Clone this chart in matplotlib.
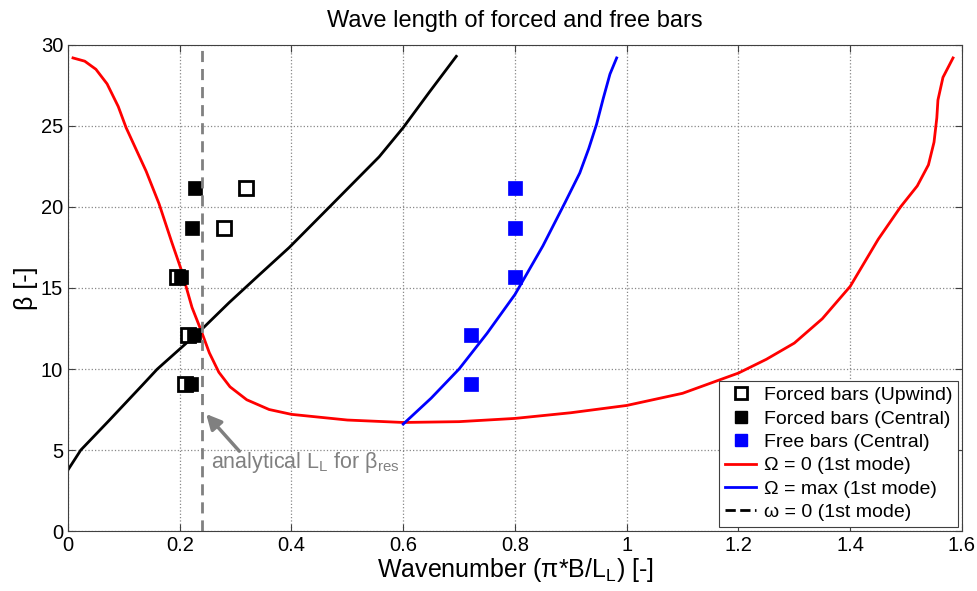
import numpy as np
import matplotlib
matplotlib.use("Agg")
import matplotlib.pyplot as plt
from matplotlib.lines import Line2D

plt.rcParams['font.family'] = ['Liberation Sans', 'DejaVu Sans']
plt.rcParams['mathtext.fontset'] = 'custom'
plt.rcParams['mathtext.rm'] = 'Liberation Sans'
plt.rcParams['mathtext.it'] = 'Liberation Sans'

# Omega = 0 (1st mode), red
red_x = [0.009, 0.03, 0.05, 0.07, 0.09, 0.104, 0.12, 0.14, 0.163, 0.186, 0.203, 0.222,
         0.238, 0.253, 0.27, 0.29, 0.32, 0.36, 0.4, 0.5, 0.6, 0.7, 0.8, 0.9, 1.0, 1.1,
         1.2, 1.25, 1.3, 1.35, 1.4, 1.45, 1.49, 1.52, 1.54, 1.55, 1.555, 1.557, 1.566, 1.584]
red_y = [29.2, 29.0, 28.5, 27.6, 26.2, 24.9, 23.7, 22.2, 20.2, 17.8, 16.1, 13.8,
         12.4, 11.0, 9.8, 8.9, 8.1, 7.5, 7.2, 6.85, 6.7, 6.75, 6.95, 7.3, 7.75, 8.5,
         9.75, 10.6, 11.6, 13.1, 15.1, 18.0, 20.0, 21.3, 22.6, 24.0, 25.5, 26.6, 28.0, 29.2]

# Omega = max (1st mode), blue
blue_x = [0.6, 0.65, 0.70, 0.75, 0.80, 0.85, 0.89, 0.916, 0.932, 0.946, 0.958, 0.97, 0.982]
blue_y = [6.6, 8.2, 10.0, 12.2, 14.6, 17.6, 20.3, 22.1, 23.6, 25.1, 26.7, 28.2, 29.2]

# omega = 0 (1st mode), black
black_x = [0, 0.023, 0.073, 0.133, 0.16, 0.199, 0.238, 0.2885, 0.342, 0.396, 0.468, 0.557,
           0.6, 0.647, 0.695]
black_y = [3.77, 5.0, 6.8, 9.0, 10.0, 11.2, 12.4, 14.1, 15.8, 17.5, 20.0, 23.1,
           24.9, 27.1, 29.3]

# bar data
beta = [9.1, 12.1, 15.7, 18.7, 21.2]
upwind_k = [0.21, 0.215, 0.195, 0.28, 0.318]
central_k = [0.22, 0.226, 0.203, 0.222, 0.228]
free_k = [0.722, 0.722, 0.80, 0.80, 0.80]

k_res = 0.24

fig = plt.figure(figsize=(9.78, 5.91), dpi=100)
ax = fig.add_axes([0.0695, 0.1015, 0.9141, 0.8224])

ax.plot(red_x, red_y, color='red', lw=2)
ax.plot(blue_x, blue_y, color='blue', lw=2)
ax.plot(black_x, black_y, color='black', lw=2)

ax.plot(upwind_k, beta, 's', ms=10, mfc='white', mec='black', mew=2, ls='none')
ax.plot(central_k, beta, 's', ms=10, mfc='black', mec='black', mew=0.5, ls='none')
ax.plot(free_k, beta, 's', ms=10, mfc='blue', mec='blue', mew=0.5, ls='none')

ax.axvline(k_res, color='#808080', lw=2, ls=(0, (4, 2.5)))
ax.annotate('', xy=(0.244, 7.35), xytext=(0.31, 4.8),
            arrowprops=dict(arrowstyle='-|>,head_length=0.9,head_width=0.45',
                            color='#808080', lw=2.5))
ax.text(0.256, 4.2, r'analytical L$_\mathrm{L}$ for β$_\mathrm{res}$', color='#808080',
        fontsize=15.5, va='center', ha='left')

ax.set_xlim(0, 1.6)
ax.set_ylim(0, 30)
ax.set_xticks(np.arange(0, 1.61, 0.2))
ax.set_xticklabels(['0', '0.2', '0.4', '0.6', '0.8', '1', '1.2', '1.4', '1.6'])
ax.set_yticks(np.arange(0, 31, 5))
ax.tick_params(direction='in', labelsize=14.5, top=True, right=True, length=5, color='#404040')
for s in ax.spines.values():
    s.set_color('#404040')
ax.grid(True, ls=':', color='#888888', lw=0.9)

ax.set_title('Wave length of forced and free bars', fontsize=17, pad=13)
ax.set_xlabel(r'Wavenumber ($\pi$*B/L$_\mathrm{L}$) [-]', fontsize=18, labelpad=1)
ax.set_ylabel('β [-]', fontsize=18, labelpad=2)

handles = [
    Line2D([], [], marker='s', ls='none', ms=8, mfc='white', mec='black', mew=2),
    Line2D([], [], marker='s', ls='none', ms=8, mfc='black', mec='black'),
    Line2D([], [], marker='s', ls='none', ms=8, mfc='blue', mec='blue'),
    Line2D([], [], color='red', lw=2),
    Line2D([], [], color='blue', lw=2),
    Line2D([], [], color='black', lw=2, ls='--'),
]
labels = ['Forced bars (Upwind)', 'Forced bars (Central)', 'Free bars (Central)',
          'Ω = 0 (1st mode)', 'Ω = max (1st mode)', 'ω = 0 (1st mode)']
leg = ax.legend(handles, labels, loc='lower right', bbox_to_anchor=(0.996, 0.008),
                fontsize=14, fancybox=False, framealpha=1, edgecolor='#404040',
                handlelength=1.6, borderpad=0.3, labelspacing=0.3, handletextpad=0.4,
                borderaxespad=0)
leg.get_frame().set_linewidth(0.8)

fig.savefig('out.png', dpi=100)
